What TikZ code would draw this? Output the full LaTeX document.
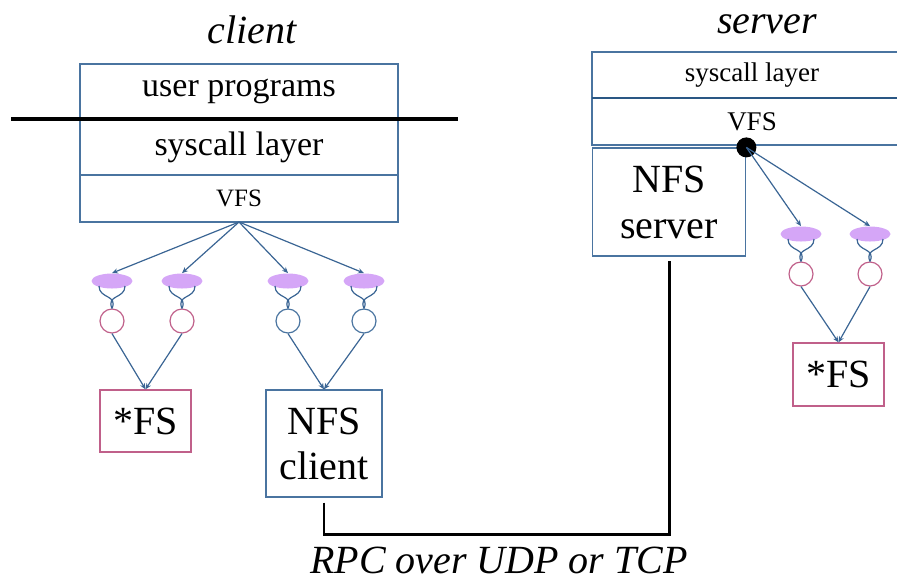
\documentclass[tikz,border=0pt]{standalone}
\usepackage{fontspec}
\setmainfont{Liberation Serif}
\usetikzlibrary{arrows.meta,shapes.geometric}
\definecolor{boxblue}{HTML}{4A74A0}
\definecolor{darkblue}{HTML}{2A5784}
\definecolor{fsred}{HTML}{C0608A}
\definecolor{vnfill}{HTML}{D5A6F7}
\definecolor{linkblue}{HTML}{3A6594}
\newcommand\BigTxt{\fontsize{20}{23}\selectfont}
\tikzset{
  layer/.style={draw=boxblue,line width=.6pt,inner sep=0pt,outer sep=0pt,anchor=north},
  fsbox/.style={draw=#1,line width=.7pt,inner sep=0pt,align=center,font=\BigTxt},
  vnode/.style={ellipse,fill=vnfill,minimum width=20.5pt,minimum height=7.5pt,inner sep=0pt},
  inode/.style={circle,draw=#1,line width=.6pt,minimum size=12pt,inner sep=0pt},
  link/.style={draw=linkblue,line width=.6pt},
  tip/.style={-{Stealth[length=3pt,width=2.6pt]}}
}
\begin{document}
\begin{tikzpicture}[x=.5pt,y=-.5pt]
\path[use as bounding box,clip] (0,0) rectangle (897,580);
% client side
\node[font=\BigTxt\itshape,anchor=base] (clientlbl) at (252,43) {client};
\node[layer,anchor=north west,minimum width=159pt,minimum height=27.5pt,font=\fontsize{17}{20}\selectfont]
  (userc) at (80,64) {user programs};
\node[layer,minimum width=159pt,minimum height=28pt,font=\fontsize{17}{20}\selectfont]
  (sysc) at (userc.south) {syscall layer};
\node[layer,minimum width=159pt,minimum height=23.5pt,font=\fontsize{12.5}{15}\selectfont]
  (vfsc) at (sysc.south) {VFS};
\draw[line width=2pt]
  ([xshift=-34.5pt]userc.south west) -- ([xshift=30pt]userc.south east);
\node[fsbox=fsred,minimum width=45.5pt,minimum height=31pt] (fsc) at (145.5,421) {*FS};
\node[fsbox=boxblue,minimum width=58pt,minimum height=53.5pt,font=\fontsize{20}{22.5}\selectfont]
  (nfsc) at (324,443.5) {NFS\\client};
% server side
\node[font=\BigTxt\itshape,anchor=base] (serverlbl) at (767,33) {server};
\node[layer,anchor=north west,minimum width=160pt,minimum height=23pt,font=\fontsize{13.5}{16}\selectfont]
  (syss) at (592,52) {syscall layer};
\node[layer,minimum width=160pt,minimum height=23.5pt,font=\fontsize{13.5}{16}\selectfont]
  (vfss) at (syss.south) {VFS};
\draw[darkblue,line width=1.1pt] (syss.south west) -- (syss.south east);
\node[fsbox=boxblue,anchor=north west,minimum width=76.5pt,minimum height=54pt]
  (nfss) at ([yshift=-1.2pt]vfss.south west) {NFS\\server};
\node[circle,fill=black,minimum size=10pt,inner sep=0pt] (dot) at (nfss.north east) {};
\node[fsbox=fsred,minimum width=45.5pt,minimum height=31.5pt] (fss) at (838.5,374.5) {*FS};
% vnodes and inodes
\foreach \n/\x/\y/\col in {1/112/281/fsred,2/182/281/fsred,3/288/281/boxblue,4/364/281/boxblue,
                           5/801/234/fsred,6/870/234/fsred}{
  \node[vnode] (e\n) at (\x,\y) {};
  \node[inode=\col] (c\n) at (\x,\y+40) {};
  \draw[link] ([xshift=-6.5pt,yshift=-2.5pt]e\n.center) .. controls +(0,13) and +(6,-14) .. (c\n.north);
  \draw[link] ([xshift=6.5pt,yshift=-2.5pt]e\n.center) .. controls +(0,13) and +(-6,-14) .. (c\n.north);
}
\foreach \n in {1,2,3,4}
  \draw[link,tip] (vfsc.south) -- (e\n.north);
\foreach \n in {5,6}
  \draw[link,tip] (dot.center) -- (e\n.north);
\foreach \n/\b in {1/fsc,2/fsc,3/nfsc,4/nfsc,5/fss,6/fss}
  \draw[link,tip] (c\n.south) -- (\b.north);
% rpc link
\draw[line width=1.3pt]
  ([yshift=-2.5pt]nfsc.south) -- ++(0,32) -| ([yshift=-2pt]nfss.south);
\node[font=\BigTxt\itshape,anchor=base] (rpc) at (499,573) {RPC over UDP or TCP};
\end{tikzpicture}
\end{document}
